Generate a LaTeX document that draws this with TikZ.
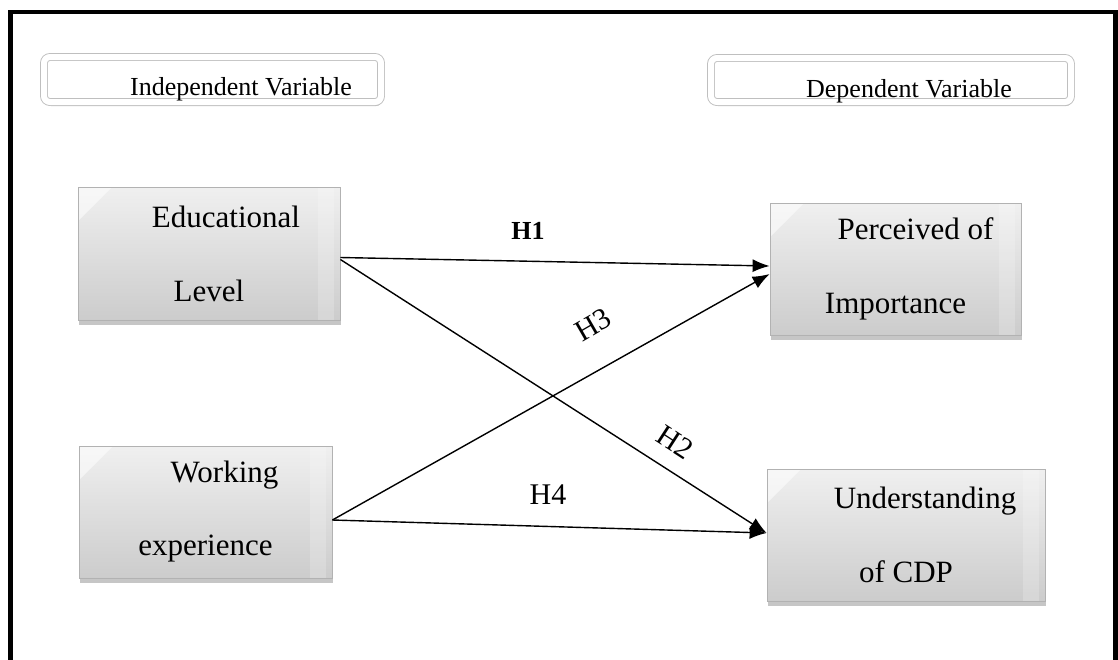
\documentclass[tikz,border=0pt]{standalone}
\usepackage{fontspec}
\setmainfont{Liberation Serif}
\usepackage{tikz}
\usetikzlibrary{arrows.meta,positioning,shadows}

\begin{document}
\begin{tikzpicture}[x=1pt,y=-1pt,>={Latex[length=17pt,width=13pt]},
  hdr/.style={draw=gray!50,fill=white,rounded corners=6pt,line width=0.9pt,double=white,double distance=6pt,
              drop shadow={shadow xshift=1pt,shadow yshift=-4pt,opacity=0.6,fill=gray!80}},
  hdrtxt/.style={font=\fontsize{26}{31}\selectfont,anchor=base,inner sep=0pt},
  var/.style={draw=gray!60,line width=0.8pt,top color=gray!12,bottom color=gray!40,align=center,
              font=\fontsize{31}{37}\selectfont,inner sep=0pt,
              path picture={\fill[white,opacity=0.55] (path picture bounding box.north west)
                 -- ++(34pt,0pt) -- ++(-34pt,-34pt) -- cycle;
               \fill[white,opacity=0.2] ([xshift=-22pt]path picture bounding box.north east)
                 rectangle ([xshift=-6pt]path picture bounding box.south east);},
              drop shadow={shadow xshift=1pt,shadow yshift=-5pt,opacity=0.45}},
  link/.style={->,line width=1.4pt},
  hyp/.style={font=\fontsize{30}{36}\selectfont,inner sep=0pt}]

  \useasboundingbox (0,0) rectangle (1118,659);
  \clip (0,0) rectangle (1118,659);
  \draw[line width=4.5pt] (10.5,12) rectangle (1115.5,720);

  % ---------- headers ----------
  \node[hdr,minimum width=337pt,minimum height=45pt] (indhdr) at (212.5,79.5) {};
  \node[hdrtxt] (indtxt) at (241,95) {Independent Variable};
  \node[hdr,minimum width=360pt,minimum height=44pt] (dephdr) at (891,80) {};
  \node[hdrtxt] (deptxt) at (909,97) {Dependent Variable};

  % ---------- variables ----------
  \node[var,minimum width=262pt,minimum height=133pt] (edu) at (209,253.5)
    {\hspace*{34pt}Educational\\[37pt]Level};
  \node[var,minimum width=253pt,minimum height=132pt] (wrk) at (205.5,512)
    {\hspace*{38pt}Working\\[36pt]experience};
  \node[var,minimum width=251pt,minimum height=132pt] (per) at (895.5,269)
    {\hspace*{40pt}Perceived of\\[37pt]Importance};
  \node[var,minimum width=278pt,minimum height=132pt] (und) at (906,535)
    {\hspace*{38pt}Understanding\\[37pt]of CDP};

  % ---------- hypotheses ----------
  \draw[link] ([yshift=-4pt]edu.east) -- ([yshift=3pt]per.west);
  \draw[link] ([yshift=-6pt]edu.east) -- ([yshift=2pt]und.west);
  \draw[link] ([yshift=-8pt]wrk.east) -- ([yshift=-5pt]per.west);
  \draw[link] ([yshift=-8pt]wrk.east) -- ([yshift=2pt]und.west);

  \node[font=\fontsize{26}{31}\selectfont\bfseries,inner sep=0pt] (h1) at (528,231) {H1};
  \node[hyp,rotate=30] (h3) at (593,325) {H3};
  \node[hyp,rotate=-33] (h2) at (675,442) {H2};
  \node[hyp] (h4) at (548,495) {H4};
\end{tikzpicture}
\end{document}
